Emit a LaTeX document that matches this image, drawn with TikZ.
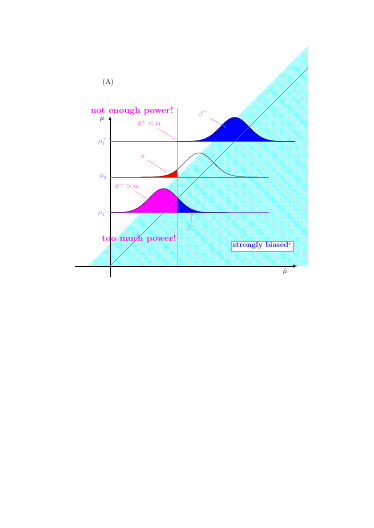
\documentclass[tikz,border=0pt]{standalone}
\usetikzlibrary{patterns.meta}
\definecolor{lblue}{rgb}{0.45,0.45,1}
\definecolor{pinkarr}{rgb}{1,0.4,1}
\definecolor{mag}{rgb}{1,0,1}
\definecolor{cy}{rgb}{0,1,1}
\definecolor{thr}{rgb}{0.6,0.82,0.82}
\definecolor{diag}{rgb}{0.2,0.65,0.2}
\tikzset{
	level/.style = {lblue, thick},
	lab/.style = {lblue, font=\large},
	maglab/.style = {mag, font=\large},
	warn/.style = {mag, font=\bfseries\Large},
	bell/.style = {black, thin, samples=120, smooth},
}
\begin{document}
\begin{tikzpicture}
	\useasboundingbox (-6.18,-14.71) rectangle (14.82,14.94);
	% biased region
	\fill[cy!22] (-1.24,0) -- (11.12,12.36) -- (11.12,0) -- cycle;
	\fill[pattern = {Lines[angle=-45, distance=2pt, line width=0.35pt]}, pattern color = cy!70] (-1.24,0) -- (11.12,12.36) -- (11.12,0) -- cycle;
	\draw [->, >=latex, very thick] (-1.97,0) -- (10.5,0);
	\draw [->, >=latex, very thick] (0,-0.62) -- (0,8.42);
	\node (muhat) [font=\large] at (9.83,-0.3) {$\hat{\mu}$};
	\node (mu) [font=\large] at (-0.45,8.2) {$\mu$};
	\node (A) at (-0.11,10.28) {\large (A)};
	% threshold
	\draw [thr, thick] (3.76,8.87) -- (3.76,0);
	% levels
	\draw [level] (0,7) -- (10.4,7);
	\draw [level] (0,5) -- (8.9,5);
	\draw [level] (0,3) -- (8.9,3);
	\node (muplus) [lab, left] at (-0.05,7) {$\mu_1^+$};
	\node (muzero) [lab, left] at (-0.05,5) {$\mu_0$};
	\node (muminus) [lab, left] at (-0.05,3) {$\mu_1^-$};
	% mu_1^+
	\fill [blue] (3.76,7) -- plot [domain = 3.76:10.4, samples=120, smooth] (\x,{7+1.35*exp(-(\x-7)^2/1.28)}) -- (10.4,7) -- cycle;
	\draw [bell, domain = 3.76:10.4] plot (\x,{7+1.35*exp(-(\x-7)^2/1.28)});
	% mu_0
	\fill [red] (1.7,5) -- plot [domain = 1.7:3.76, samples=60, smooth] (\x,{5+1.35*exp(-(\x-5)^2/1.28)}) -- (3.76,5) -- cycle;
	\draw [bell, domain = 1.7:8.3] plot (\x,{5+1.35*exp(-(\x-5)^2/1.28)});
	% mu_1^-
	\fill [mag] (0,3) -- plot [domain = 0:3.76, samples=80, smooth] (\x,{3+1.35*exp(-(\x-3)^2/1.28)}) -- (3.76,3) -- cycle;
	\fill [blue] (3.76,3) -- plot [domain = 3.76:6.6, samples=80, smooth] (\x,{3+1.35*exp(-(\x-3)^2/1.28)}) -- (6.6,3) -- cycle;
	\draw [bell, domain = 0:6.6] plot (\x,{3+1.35*exp(-(\x-3)^2/1.28)});
	% unbiased estimate
	\draw [diag, semithick] (0,0) -- (11.12,11.12);
	% labels
	\node (notenough) [warn] at (1.24,8.7) {not enough power!};
	\node (toomuch) [warn] at (1.63,1.52) {too much power!};
	\node (piplus) [maglab] at (2.19,8.03) {$\pi^+ < \alpha$};
	\coordinate (piplustip) at (3.65,7.13);
	\draw [->, pinkarr] (piplus) -- (piplustip);
	\node (betaplus) [lab] at (5.22,8.54) {$\beta^+$};
	\coordinate (betaplustip) at (6.5,7.8);
	\draw [->, lblue] (betaplus) -- (betaplustip);
	\node (alpha) [red!70, font=\large] at (1.85,6.12) {$\alpha$};
	\coordinate (alphatip) at (3.15,5.28);
	\draw [->, red!60] (alpha) -- (alphatip);
	\node (piminus) [maglab] at (0.95,4.49) {$\pi^- > \alpha$};
	\coordinate (piminustip) at (2.02,3.82);
	\draw [->, pinkarr] (piminus) -- (piminustip);
	\node (betaminus) [lab] at (4.55,2.13) {$\beta^-$};
	\coordinate (betaminustip) at (4.6,2.92);
	\draw [->, lblue] (betaminus) -- (betaminustip);
	\node (biased) [draw = red!50, fill = white, text = blue, font = \bfseries\large, inner sep = 2pt] at (8.54,1.12) {strongly biased$^*$};
\end{tikzpicture}
\end{document}
